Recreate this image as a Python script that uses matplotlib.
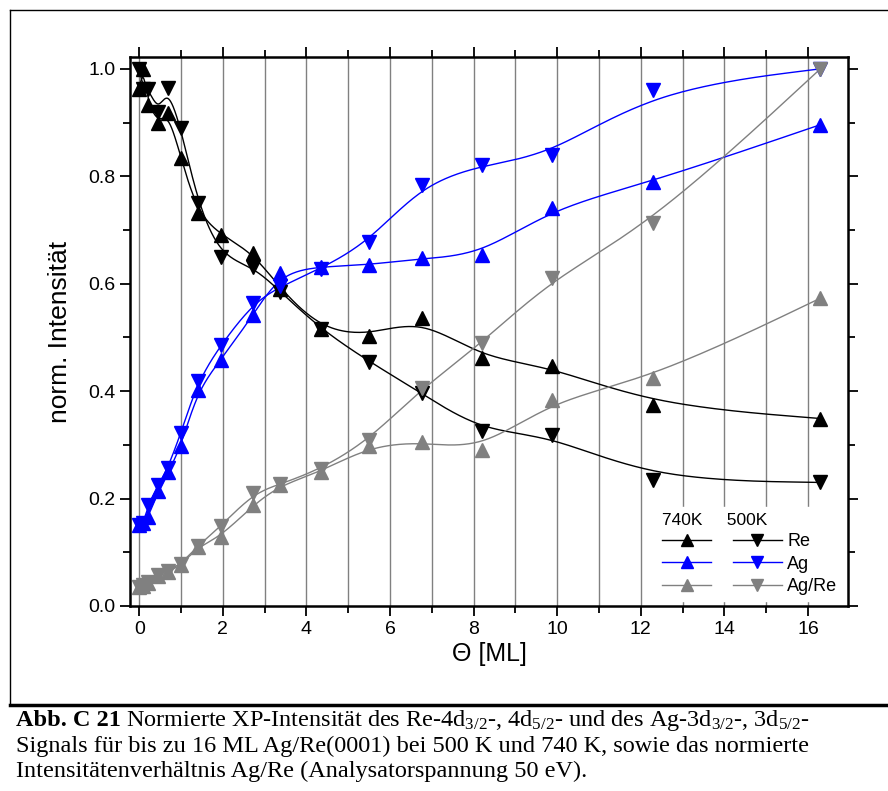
import numpy as np
import matplotlib.pyplot as plt
from matplotlib.lines import Line2D

# coverage in ML
theta_740 = [0.0, 0.1, 0.22, 0.46, 0.7, 1.0, 1.4, 1.95, 2.73, 3.38, 4.35, 5.5, 6.76, 8.2, 9.88, 12.3, 16.3]
theta_500 = [0.0, 0.1, 0.22, 0.46, 0.68, 1.0, 1.4, 1.95, 2.73, 3.38, 4.35, 5.5, 6.76, 8.2, 9.88, 12.3, 16.3]

re_740 = [0.963, 1.0, 0.933, 0.90, 0.917, 0.834, 0.731, 0.691, 0.657, 0.59, 0.515, 0.503, 0.536, 0.461, 0.446, 0.374, 0.349]
re_500 = [1.0, 0.963, 0.963, 0.92, 0.964, 0.89, 0.75, 0.65, 0.632, 0.585, 0.515, 0.455, 0.396, 0.325, 0.318, 0.235, 0.23]
ag_740 = [0.15, 0.155, 0.166, 0.215, 0.25, 0.297, 0.402, 0.458, 0.542, 0.62, 0.632, 0.635, 0.647, 0.654, 0.741, 0.79, 0.896]
ag_500 = [0.15, 0.155, 0.188, 0.225, 0.256, 0.322, 0.418, 0.486, 0.564, 0.595, 0.628, 0.678, 0.784, 0.821, 0.84, 0.961, 1.0]
ratio_740 = [0.035, 0.038, 0.042, 0.055, 0.064, 0.076, 0.11, 0.129, 0.188, 0.225, 0.25, 0.297, 0.306, 0.29, 0.384, 0.424, 0.573]
ratio_500 = [0.035, 0.04, 0.045, 0.058, 0.066, 0.078, 0.112, 0.148, 0.21, 0.227, 0.255, 0.309, 0.405, 0.489, 0.61, 0.713, 1.0]


def bspline(x, y, n=40):
    # uniform cubic B-spline through the data as control points (Origin style)
    P = np.column_stack([x, y])
    P = np.vstack([P[0], P[0], P, P[-1], P[-1]])
    t = np.linspace(0, 1, n)[:, None]
    b0 = (1 - t) ** 3 / 6
    b1 = (3 * t ** 3 - 6 * t ** 2 + 4) / 6
    b2 = (-3 * t ** 3 + 3 * t ** 2 + 3 * t + 1) / 6
    b3 = t ** 3 / 6
    segs = [b0 * P[i] + b1 * P[i + 1] + b2 * P[i + 2] + b3 * P[i + 3] for i in range(len(P) - 3)]
    c = np.vstack(segs)
    return c[:, 0], c[:, 1]


plt.rcParams['font.family'] = ['Liberation Sans', 'DejaVu Sans']
plt.rcParams['mathtext.fontset'] = 'custom'
plt.rcParams['mathtext.rm'] = 'Liberation Serif'

fig = plt.figure(figsize=(8.88, 7.91), dpi=100)
ax = fig.add_axes([130 / 888, 1 - 606 / 791, 718 / 888, 549 / 791])

series = [
    (theta_740, re_740, 'black', '^', 'Re'),
    (theta_500, re_500, 'black', 'v', 'Re'),
    (theta_740, ag_740, '#0000ff', '^', 'Ag'),
    (theta_500, ag_500, '#0000ff', 'v', 'Ag'),
    (theta_740, ratio_740, '#808080', '^', 'Ag/Re'),
    (theta_500, ratio_500, '#808080', 'v', 'Ag/Re'),
]
handles = []
for x, y, col, mk, lab in series:
    sx, sy = bspline(x, y)
    ax.plot(sx, sy, color=col, lw=1, zorder=3)
    ax.plot(x, y, ls='none', marker=mk, ms=10, color=col, mec=col, zorder=4)
    handles.append(Line2D([], [], color=col, lw=1, marker=mk, ms=10, mec=col))

ax.set_xlim(-0.22, 16.96)
ax.set_ylim(0, 1.022)
ax.set_xticks(np.arange(0, 17, 2))
ax.set_xticks(np.arange(0, 17, 1), minor=True)
ax.set_yticks(np.arange(0, 1.01, 0.2))
ax.set_yticks(np.arange(0, 1.01, 0.1), minor=True)
ax.set_yticklabels(['0.0', '0.2', '0.4', '0.6', '0.8', '1.0'])
ax.tick_params(which='both', direction='out', labelsize=14, width=1.3)
ax.tick_params(which='major', length=7)
ax.tick_params(which='minor', length=5)
ax.tick_params(which='both', top=True, right=True, labeltop=False, labelright=False)
for s in ax.spines.values():
    s.set_linewidth(1.8)
ax.grid(True, which='both', axis='x', color='#808080', lw=1)
ax.set_axisbelow(True)

ax.set_xlabel('Θ [ML]', fontsize=18, labelpad=3)
ax.set_ylabel('norm. Intensität', fontsize=19, labelpad=12)

leg_handles = [handles[0], handles[2], handles[4], handles[1], handles[3], handles[5]]
leg_labels = ['', '', '', 'Re', 'Ag', 'Ag/Re']
leg = ax.legend(leg_handles, leg_labels, ncol=2, loc='lower right', title='740K     500K',
                fontsize=13, title_fontsize=12.5, frameon=True, framealpha=1,
                edgecolor='white', facecolor='white', fancybox=False,
                handlelength=2.7, handletextpad=0.3, columnspacing=0.9,
                labelspacing=0.3, borderaxespad=0.25, borderpad=0.35, markerscale=0.85)
leg._legend_box.align = 'left'

# frame and caption
fig.add_artist(Line2D([10 / 888, 10 / 888], [1 - 10 / 791, 1 - 705 / 791], color='black', lw=1))
fig.add_artist(Line2D([10 / 888, 1.0], [1 - 10 / 791, 1 - 10 / 791], color='black', lw=1))
fig.add_artist(Line2D([10 / 888, 1.0], [1 - 705 / 791, 1 - 705 / 791], color='black', lw=2.5))

cap_kw = dict(fontsize=17.5, family='Liberation Serif', va='baseline')
bold = fig.text(16 / 888, 1 - 726 / 791, 'Abb. C 21', fontweight='bold', **cap_kw)
fig.canvas.draw()
bb = bold.get_window_extent(fig.canvas.get_renderer())
fig.text(bb.x1 / 888 + 5 / 888, 1 - 726 / 791,
         r'Normierte XP-Intensität des Re-4d$\mathregular{_{3/2}}$-, 4d$\mathregular{_{5/2}}$- und des '
         r'Ag-3d$\mathregular{_{3/2}}$-, 3d$\mathregular{_{5/2}}$-', **cap_kw)
fig.text(16 / 888, 1 - 752 / 791,
         'Signals für bis zu 16 ML Ag/Re(0001) bei 500 K und 740 K, sowie das normierte', **cap_kw)
fig.text(16 / 888, 1 - 777 / 791,
         'Intensitätenverhältnis Ag/Re (Analysatorspannung 50 eV).', **cap_kw)

fig.savefig('out.png', dpi=100)
